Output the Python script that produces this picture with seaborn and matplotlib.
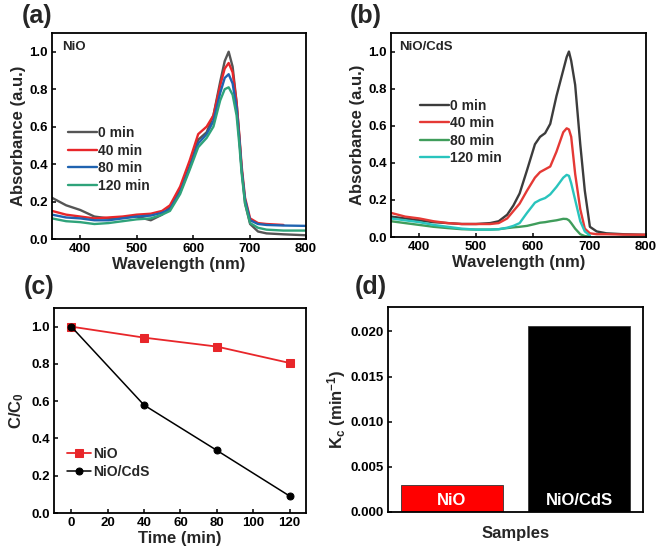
import numpy as np
import pandas as pd
import matplotlib
matplotlib.use("Agg")
import matplotlib.pyplot as plt
import seaborn as sns

# ---------------- data ----------------
wl_a = [350, 375, 400, 425, 450, 475, 500, 525, 545, 559, 577, 594, 609, 624, 636,
        648, 656, 663, 670, 677, 682, 686, 692, 701, 715, 730, 760, 800]
nio_0 = [.22, .18, .155, .12, .11, .115, .12, .10, .13, .17, .26, .39, .53, .57, .66,
         .84, .95, 1.0, .92, .73, .54, .37, .19, .08, .04, .03, .025, .02]
nio_40 = [.15, .13, .12, .11, .115, .12, .13, .135, .15, .18, .28, .42, .56, .60, .66,
          .82, .91, .94, .89, .73, .55, .39, .22, .11, .085, .08, .075, np.nan]
nio_80 = [.13, .115, .11, .10, .10, .11, .12, .125, .14, .16, .25, .38, .51, .56, .63,
          .78, .86, .88, .83, .70, .53, .37, .21, .10, .08, .075, .072, .07]
nio_120 = [.11, .095, .09, .08, .085, .095, .105, .11, .13, .15, .24, .37, .49, .54, .60,
           .74, .80, .81, .77, .66, .50, .35, .19, .085, .06, .05, .045, .045]

wl_b = [350, 375, 400, 425, 450, 475, 500, 525, 540, 555, 566, 577, 590, 604, 613, 622,
        631, 642, 654, 660, 664, 668, 675, 684, 692, 701, 713, 730, 760, 800]
cds_0 = [.11, .10, .09, .08, .075, .07, .07, .075, .085, .12, .17, .235, .36, .50, .54, .56,
         .61, .76, .90, .97, 1.0, .95, .82, .50, .25, .055, .03, .02, .015, .012]
cds_40 = [.13, .11, .10, .085, .075, .07, .07, .07, .075, .10, .14, .18, .25, .32, .35, .365,
          .38, .46, .565, .586, .58, .54, .34, .15, .045, .02, .015, .015, .013, .012]
cds_80 = [.085, .075, .065, .055, .048, .042, .04, .04, .042, .048, .052, .055, .06, .07, .077, .08,
          .085, .09, .098, .097, .09, .075, .045, .015, .005, .002, np.nan, np.nan, np.nan, np.nan]
cds_120 = [.10, .09, .08, .065, .055, .045, .04, .04, .042, .05, .06, .075, .13, .185, .20, .21,
           .23, .27, .32, .335, .33, .29, .20, .085, .03, .008, np.nan, np.nan, np.nan, np.nan]

time_labels = ["0 min", "40 min", "80 min", "120 min"]

time_c = [0, 40, 80, 120]
cc_nio = [1.0, 0.941, 0.893, 0.805]
cc_cds = [1.0, 0.579, 0.336, 0.091]

samples = ["NiO", "NiO/CdS"]
kc = [0.00302, 0.02063]

# ---------------- style ----------------
sns.set_theme(style="ticks")
plt.rcParams["font.family"] = ["Liberation Sans", "DejaVu Sans"]
plt.rcParams["font.weight"] = "bold"
plt.rcParams["axes.labelweight"] = "bold"
plt.rcParams["mathtext.fontset"] = "custom"
plt.rcParams["mathtext.rm"] = "Liberation Sans:bold"
plt.rcParams["mathtext.bf"] = "Liberation Sans:bold"
plt.rcParams["mathtext.it"] = "Liberation Sans:bold"
plt.rcParams["mathtext.default"] = "bf"

W, H = 661, 555
fig = plt.figure(figsize=(W / 100, H / 100), dpi=100)
fig.patch.set_facecolor("white")


def add_ax(l, r, t, b):
    return fig.add_axes([l / W, (H - b) / H, (r - l) / W, (b - t) / H])


def style_ax(ax):
    for s in ax.spines.values():
        s.set_linewidth(1.3)
        s.set_color("black")
        s.set_visible(True)
    ax.tick_params(direction="in", length=3, width=1.1, labelsize=9.5, pad=3,
                   colors="black")
    for lab in ax.get_xticklabels() + ax.get_yticklabels():
        lab.set_fontweight("bold")
    ax.set_facecolor("white")
    ax.grid(False)


def spectra(ax, wl, series, colors):
    for vals, lab, col in zip(series, time_labels, colors):
        df = pd.DataFrame({"wl": wl, "A": vals}).dropna()
        sns.lineplot(data=df, x="wl", y="A", ax=ax, color=col, lw=1.7, label=lab,
                     sort=False)
    ax.set_xlim(350, 800)
    ax.set_ylim(0, 1.1)
    ax.set_xticks([400, 500, 600, 700, 800])
    ax.set_yticks([0, 0.2, 0.4, 0.6, 0.8, 1.0])
    ax.set_yticklabels(["0.0", "0.2", "0.4", "0.6", "0.8", "1.0"])
    ax.set_xlabel("Wavelength (nm)", fontsize=12, fontweight="bold", labelpad=1)
    ax.set_ylabel("Absorbance (a.u.)", fontsize=12, fontweight="bold", labelpad=2)


leg_kw = dict(frameon=False, handlelength=2.1, handletextpad=0.1, labelspacing=0.25,
              borderaxespad=0, prop={"weight": "bold", "size": 10})

# (a)
ax_a = add_ax(52, 306, 33, 239)
spectra(ax_a, wl_a, [nio_0, nio_40, nio_80, nio_120],
        ["#555555", "#e8262a", "#1f63b0", "#2fa37a"])
style_ax(ax_a)
ax_a.text(0.04, 0.96, "NiO", transform=ax_a.transAxes, fontsize=9.5,
          fontweight="bold", va="top", ha="left")
ax_a.legend(loc="upper left", bbox_to_anchor=(0.04, 0.575), **leg_kw)

# (b)
ax_b = add_ax(391, 646, 33, 237)
spectra(ax_b, wl_b, [cds_0, cds_40, cds_80, cds_120],
        ["#3c3c3c", "#e53935", "#3f9d5b", "#29c4bd"])
style_ax(ax_b)
ax_b.text(0.03, 0.96, "NiO/CdS", transform=ax_b.transAxes, fontsize=9.5,
          fontweight="bold", va="top", ha="left")
ax_b.legend(loc="upper left", bbox_to_anchor=(0.09, 0.705), **leg_kw)

# (c)
ax_c = add_ax(54, 306, 308, 513)
sns.lineplot(x=time_c, y=cc_nio, ax=ax_c, color="#e8262a", marker="s",
             markersize=5.5, markeredgecolor="#e8262a", lw=1.3, label="NiO")
sns.lineplot(x=time_c, y=cc_cds, ax=ax_c, color="black", marker="o",
             markersize=5, markeredgecolor="black", lw=1.1, label="NiO/CdS")
ax_c.set_xlim(-9.5, 129)
ax_c.set_ylim(0, 1.1)
ax_c.set_xticks([0, 20, 40, 60, 80, 100, 120])
ax_c.set_yticks([0, 0.2, 0.4, 0.6, 0.8, 1.0])
ax_c.set_yticklabels(["0.0", "0.2", "0.4", "0.6", "0.8", "1.0"])
ax_c.set_xlabel("Time (min)", fontsize=12, fontweight="bold", labelpad=1)
ax_c.set_ylabel("C/C$_0$", fontsize=12, fontweight="bold", labelpad=4)
style_ax(ax_c)
ax_c.legend(loc="upper left", bbox_to_anchor=(0.03, 0.35), frameon=False,
            handlelength=1.7, handletextpad=0.2, labelspacing=0.3,
            borderaxespad=0, prop={"weight": "bold", "size": 10})

# (d)
ax_d = add_ax(388, 643, 307, 512)
df_d = pd.DataFrame({"sample": samples, "kc": kc})
sns.barplot(data=df_d, x="sample", y="kc", hue="sample",
            palette={"NiO": "#ff0000", "NiO/CdS": "#000000"}, width=0.8,
            saturation=1, ax=ax_d, legend=False, edgecolor="#333333", linewidth=0.6)
ax_d.set_xlim(-0.5, 1.5)
ax_d.set_ylim(0, 0.0227)
ax_d.set_yticks([0, 0.005, 0.010, 0.015, 0.020])
ax_d.set_yticklabels(["0.000", "0.005", "0.010", "0.015", "0.020"])
ax_d.set_xticks([])
ax_d.set_xlabel("Samples", fontsize=12, fontweight="bold", labelpad=10)
ax_d.set_ylabel("K$_c$ (min$^{-1}$)", fontsize=12, fontweight="bold", labelpad=2)
style_ax(ax_d)
for i, s in enumerate(samples):
    ax_d.text(i, 0.00125, s, color="white", fontsize=12, fontweight="bold",
              ha="center", va="center")

# panel letters
for txt, x, y in [("(a)", 22, 16), ("(b)", 350, 16), ("(c)", 24, 287), ("(d)", 355, 287)]:
    fig.text(x / W, 1 - y / H, txt, fontsize=18, fontweight="bold",
             ha="left", va="center")

fig.savefig("out.png", dpi=100)
